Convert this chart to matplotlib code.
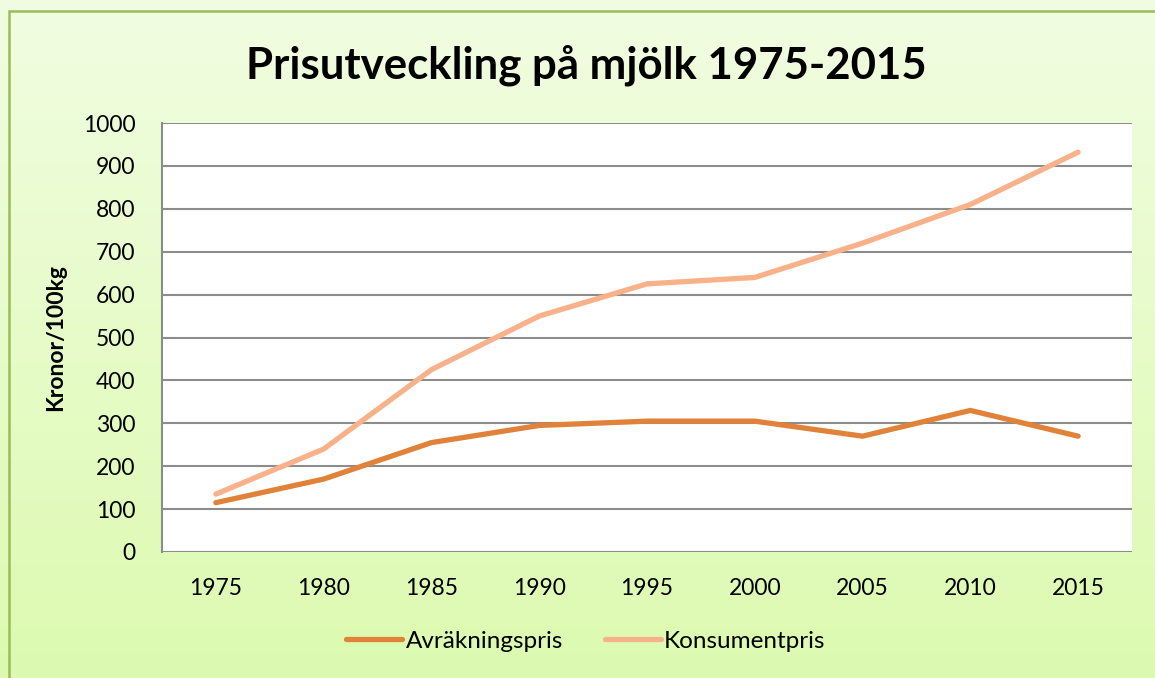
import numpy as np
import matplotlib.pyplot as plt
from matplotlib.patches import Rectangle

years = ['1975', '1980', '1985', '1990', '1995', '2000', '2005', '2010', '2015']
avrakning = [115, 170, 255, 295, 305, 305, 270, 330, 270]
konsument = [135, 240, 425, 550, 625, 640, 720, 810, 932]

plt.rcParams['font.family'] = ['Lato', 'DejaVu Sans']

fig = plt.figure(figsize=(11.55, 6.78), dpi=100)

# gradient background for the chart area
bg = fig.add_axes([0, 0, 1, 1], zorder=0)
top = np.array([0.945, 0.992, 0.885])
bot = np.array([0.865, 0.980, 0.690])
t = np.linspace(0, 1, 256)[:, None]
grad = top[None, :] * (1 - t) + bot[None, :] * t
bg.imshow(grad[:, None, :], aspect='auto', extent=[0, 1, 0, 1], origin='upper')
bg.set_xlim(0, 1)
bg.set_ylim(0, 1)
bg.axis('off')
fig.patches.append(Rectangle((9 / 1155, -0.05), 1.2, 1 - 11 / 678 + 0.05, transform=fig.transFigure,
                             fill=False, edgecolor='#9bbb59', linewidth=1.8, zorder=1))

ax = fig.add_axes([162 / 1155, 1 - 552 / 678, 970 / 1155, 429 / 678], zorder=2)
ax.set_facecolor('white')
x = np.arange(len(years))
ax.plot(x, avrakning, color='#e0823a', linewidth=3.8, solid_capstyle='round', label='Avräkningspris', zorder=3)
ax.plot(x, konsument, color='#f9b18a', linewidth=3.8, solid_capstyle='round', label='Konsumentpris', zorder=3)

ax.set_xlim(-0.5, len(years) - 0.5)
ax.set_ylim(0, 1000)
ax.set_yticks(range(0, 1001, 100))
ax.set_xticks(x)
ax.set_xticklabels(years)
ax.yaxis.grid(True, color='#8c8c8c', linewidth=1.5)
ax.set_axisbelow(True)
for s in ['top', 'right', 'bottom']:
    ax.spines[s].set_visible(False)
ax.spines['left'].set_color('#8c8c8c')
ax.spines['left'].set_linewidth(1.5)
ax.tick_params(axis='both', length=0, labelsize=16.5, colors='black')
ax.tick_params(axis='y', pad=19)
ax.tick_params(axis='x', pad=19)

ax.set_ylabel('Kronor/100kg', fontsize=16.5, fontweight='bold', labelpad=12)
fig.text(586 / 1155, 1 - 65 / 678, 'Prisutveckling på mjölk 1975-2015', ha='center', va='center',
         fontsize=31.5, fontweight='bold')

ax.legend(loc='center', bbox_to_anchor=(586 / 1155, 1 - 641 / 678), bbox_transform=fig.transFigure,
          ncol=2, frameon=False, fontsize=17.5, handlelength=2.3, handletextpad=0.15, columnspacing=1.7)

fig.savefig('out.png', dpi=100)
